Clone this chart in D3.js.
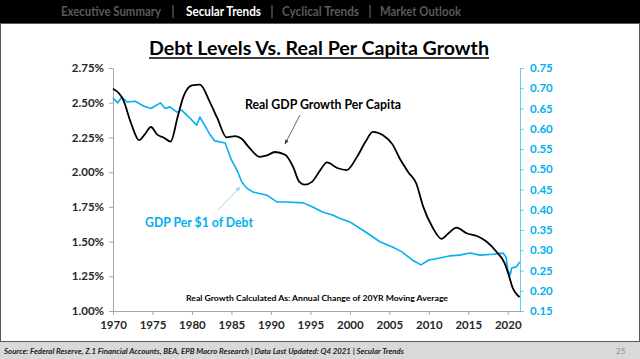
<!DOCTYPE html>
<html>
<head>
<meta charset="utf-8">
<script src="https://cdn.jsdelivr.net/npm/d3@7"></script>
<style>
  body { margin: 0; background: #fff; }
  svg { display: block; }
  text { font-family: Lato, "Noto Sans", sans-serif; }
</style>
</head>
<body>
<div id="chart"></div>
<script>
// data
var gdpYears = [1970.0, 1971.3, 1972.3, 1973.3, 1974.0, 1974.8, 1975.6, 1976.4, 1977.3, 1978.2,
  1978.9, 1980.0, 1981.0, 1982.3, 1983.2, 1984.4, 1985.5, 1986.3, 1987.2, 1988.6,
  1989.5, 1990.5, 1991.8, 1992.8, 1993.6, 1994.3, 1995.2, 1996.2, 1997.1, 1998.4,
  1999.6, 2000.9, 2002.0, 2002.9, 2004.2, 2005.4, 2006.3, 2007.4, 2008.4, 2009.3,
  2010.5, 2011.6, 2012.5, 2013.5, 2014.8, 2016.1, 2017.3, 2018.6, 2019.6, 2020.2,
  2020.6, 2021.3, 2021.5];
var gdpGrowth = [2.60, 2.52, 2.35, 2.23, 2.27, 2.325, 2.27, 2.25, 2.22, 2.40,
  2.54, 2.625, 2.63, 2.50, 2.39, 2.25, 2.26, 2.24, 2.18, 2.11,
  2.12, 2.145, 2.125, 2.04, 1.93, 1.91, 1.93, 2.01, 2.07, 2.03,
  2.015, 2.11, 2.22, 2.29, 2.265, 2.20, 2.10, 2.00, 1.92, 1.75,
  1.60, 1.52, 1.56, 1.60, 1.56, 1.54, 1.50, 1.425, 1.345, 1.245,
  1.17, 1.11, 1.10];

var debtYears = [1970.0, 1970.6, 1971.1, 1971.8, 1972.8, 1974.0, 1974.8, 1976.0, 1976.6, 1977.2,
  1978.1, 1978.7, 1979.7, 1980.6, 1981.0, 1981.6, 1982.3, 1982.9, 1984.2, 1985.0,
  1985.7, 1986.3, 1986.9, 1987.7, 1989.5, 1990.8, 1992.0, 1994.1, 1995.3, 1996.6,
  1997.8, 1998.7, 2000.0, 2002.0, 2003.8, 2005.4, 2006.6, 2007.9, 2009.0, 2010.0,
  2011.4, 2012.6, 2013.9, 2015.2, 2016.5, 2018.1, 2019.4, 2019.8, 2020.0, 2020.3,
  2020.5, 2021.1, 2021.5];
var gdpPerDebt = [0.676, 0.664, 0.678, 0.666, 0.668, 0.655, 0.650, 0.664, 0.650, 0.654,
  0.641, 0.646, 0.627, 0.609, 0.629, 0.609, 0.585, 0.570, 0.565, 0.523,
  0.498, 0.469, 0.454, 0.444, 0.436, 0.419, 0.419, 0.417, 0.407, 0.394,
  0.387, 0.379, 0.370, 0.345, 0.321, 0.308, 0.296, 0.276, 0.264, 0.276,
  0.281, 0.286, 0.288, 0.293, 0.288, 0.290, 0.293, 0.283, 0.251, 0.239,
  0.256, 0.259, 0.271];

var xTicks = [1970, 1975, 1980, 1985, 1990, 1995, 2000, 2005, 2010, 2015, 2020];
var leftTicks = [1.00, 1.25, 1.50, 1.75, 2.00, 2.25, 2.50, 2.75];
var rightTicks = [0.15, 0.20, 0.25, 0.30, 0.35, 0.40, 0.45, 0.50, 0.55, 0.60, 0.65, 0.70, 0.75];

var navItems = ["Executive Summary", "Secular Trends", "Cyclical Trends", "Market Outlook"];

var W = 640, H = 359;
var blue = "#00b0f0";

var svg = d3.select("#chart").append("svg")
  .attr("width", W).attr("height", H);

// top nav bar
svg.append("rect").attr("x", 0).attr("y", 0).attr("width", W).attr("height", 23).attr("fill", "#000");
var navX = [61, 186, 282, 380];
var navW = [100, 75, 77, 81];
navItems.forEach(function(t, i) {
  svg.append("text")
    .attr("x", navX[i]).attr("y", 16)
    .attr("font-size", 13.5).attr("font-weight", "bold")
    .attr("fill", t == "Secular Trends" ? "#fff" : "#595959")
    .attr("textLength", navW[i]).attr("lengthAdjust", "spacingAndGlyphs")
    .text(t);
});
// separators drawn as thin bars
[173, 272, 370].forEach(function(sx) {
  svg.append("line").attr("x1", sx).attr("x2", sx).attr("y1", 5).attr("y2", 18)
    .attr("stroke", "#595959").attr("stroke-width", 1.3);
});

// white panel border + footer
svg.append("rect").attr("x", 0.5).attr("y", 23.5).attr("width", W - 1).attr("height", 318)
  .attr("fill", "#fff").attr("stroke", "#595959");
svg.append("rect").attr("x", 0).attr("y", 342).attr("width", W).attr("height", 17).attr("fill", "#d9d9d9");
svg.append("text").attr("x", 4).attr("y", 354)
  .attr("font-size", 7.5).attr("font-weight", "bold").attr("font-style", "italic").attr("fill", "#222")
  .attr("textLength", 400).attr("lengthAdjust", "spacingAndGlyphs")
  .text("Source: Federal Reserve, Z.1 Financial Accounts, BEA, EPB Macro Research   |   Data Last Updated: Q4 2021   |   Secular Trends");
svg.append("text").attr("x", 616).attr("y", 354)
  .attr("font-size", 8).attr("fill", "#8c8c8c").text("25");

// title
svg.append("text").attr("x", 319).attr("y", 55)
  .attr("text-anchor", "middle").attr("font-size", 19).attr("font-weight", "bold")
  .attr("fill", "#000")
  .attr("textLength", 340).attr("lengthAdjust", "spacingAndGlyphs")
  .text("Debt Levels Vs. Real Per Capita Growth");
svg.append("line").attr("x1", 149).attr("x2", 489).attr("y1", 58).attr("y2", 58)
  .attr("stroke", "#000").attr("stroke-width", 1.5);

// scales
var x = d3.scaleLinear().domain([1970, 2021.55]).range([113, 520]);
var yL = d3.scaleLinear().domain([1.0, 2.75]).range([311, 68]);
var yR = d3.scaleLinear().domain([0.15, 0.75]).range([311, 68]);

// x axis
var gx = svg.append("g").attr("transform", "translate(0,311)")
  .call(d3.axisBottom(x).tickValues(xTicks).tickFormat(d3.format("d")).tickSize(4).tickSizeOuter(0));
gx.select(".domain").attr("stroke", "#a6a6a6");
gx.selectAll(".tick line").attr("stroke", "#a6a6a6");
gx.selectAll("text").attr("font-size", 11.5).attr("font-weight", "bold").attr("fill", "#262626")
  .attr("font-family", "Lato, sans-serif").attr("dy", "0.95em");

// left axis
var gl = svg.append("g").attr("transform", "translate(113,0)")
  .call(d3.axisLeft(yL).tickValues(leftTicks).tickFormat(d3.format(".2f")).tickSize(4).tickSizeOuter(0));
gl.select(".domain").attr("stroke", "#a6a6a6");
gl.selectAll(".tick line").attr("stroke", "#a6a6a6");
gl.selectAll("text").text(function(d) { return d3.format(".2f")(d) + "%"; })
  .attr("font-size", 11.5).attr("font-weight", "bold").attr("fill", "#262626")
  .attr("font-family", "Lato, sans-serif").attr("x", -9);

// right axis
var gr = svg.append("g").attr("transform", "translate(520,0)")
  .call(d3.axisRight(yR).tickValues(rightTicks).tickFormat(d3.format(".2f")).tickSize(4).tickSizeOuter(0));
gr.select(".domain").attr("stroke", blue).attr("stroke-opacity", 0.6);
gr.selectAll(".tick line").attr("stroke", blue).attr("stroke-opacity", 0.6);
gr.selectAll("text").attr("font-size", 11.5).attr("font-weight", "bold").attr("fill", blue)
  .attr("font-family", "Lato, sans-serif").attr("x", 10);

// lines
var gdpData = gdpYears.map(function(d, i) { return [d, gdpGrowth[i]]; });
var debtData = debtYears.map(function(d, i) { return [d, gdpPerDebt[i]]; });

svg.append("path").datum(debtData)
  .attr("fill", "none").attr("stroke", blue).attr("stroke-width", 1.6).attr("stroke-linejoin", "round")
  .attr("d", d3.line().x(function(d) { return x(d[0]); }).y(function(d) { return yR(d[1]); }));

svg.append("path").datum(gdpData)
  .attr("fill", "none").attr("stroke", "#000").attr("stroke-width", 1.8).attr("stroke-linejoin", "round")
  .attr("d", d3.line().curve(d3.curveMonotoneX).x(function(d) { return x(d[0]); }).y(function(d) { return yL(d[1]); }));

// annotations
var defs = svg.append("defs");
function marker(id, color) {
  defs.append("marker").attr("id", id).attr("viewBox", "0 0 10 10")
    .attr("refX", 9).attr("refY", 5).attr("markerWidth", 6).attr("markerHeight", 6)
    .attr("orient", "auto")
    .append("path").attr("d", "M0,1 L10,5 L0,9 z").attr("fill", color);
}
marker("arrowGray", "#404040");
marker("arrowBlue", "#7fd3f5");

svg.append("text").attr("x", 245).attr("y", 109)
  .attr("font-size", 12.5).attr("font-weight", "bold").attr("fill", "#000")
  .attr("textLength", 156).attr("lengthAdjust", "spacingAndGlyphs")
  .text("Real GDP Growth Per Capita");
svg.append("line").attr("x1", 300).attr("y1", 115).attr("x2", 285).attr("y2", 144)
  .attr("stroke", "#404040").attr("stroke-width", 0.8).attr("marker-end", "url(#arrowGray)");

svg.append("text").attr("x", 145).attr("y", 227)
  .attr("font-size", 12.5).attr("font-weight", "bold").attr("fill", blue)
  .attr("textLength", 108).attr("lengthAdjust", "spacingAndGlyphs")
  .text("GDP Per $1 of Debt");
svg.append("line").attr("x1", 218).attr("y1", 210).attr("x2", 240).attr("y2", 187)
  .attr("stroke", "#7fd3f5").attr("stroke-width", 0.8).attr("marker-end", "url(#arrowBlue)");

svg.append("text").attr("x", 186).attr("y", 301)
  .attr("font-size", 8).attr("font-weight", "bold").attr("fill", "#000")
  .attr("textLength", 262).attr("lengthAdjust", "spacingAndGlyphs")
  .text("Real Growth Calculated As: Annual Change of 20YR Moving Average");
</script>
</body>
</html>
